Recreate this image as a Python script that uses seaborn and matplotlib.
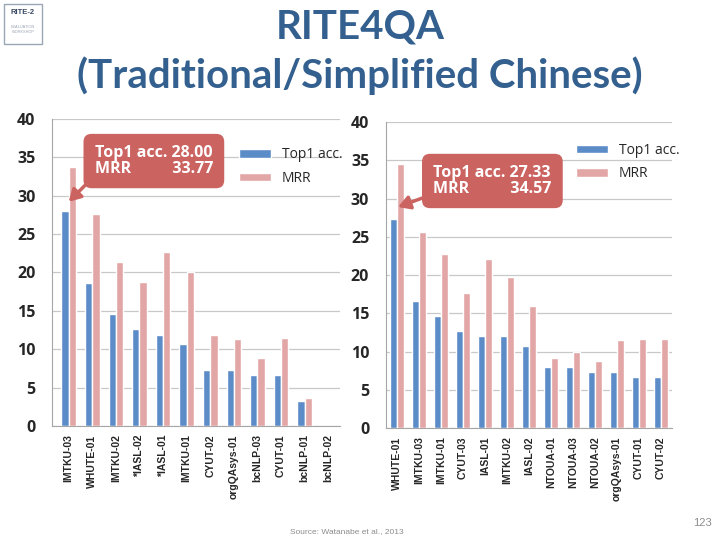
import matplotlib
matplotlib.use("Agg")
import matplotlib.pyplot as plt
from matplotlib.patches import Rectangle
import pandas as pd
import seaborn as sns

# values
left_runs = ['IMTKU-03', 'WHUTE-01', 'IMTKU-02', '*IASL-02', '*IASL-01', 'IMTKU-01',
             'CYUT-02', 'orgQAsys-01', 'bcNLP-03', 'CYUT-01', 'bcNLP-01', 'bcNLP-02']
left_top1 = [28.00, 18.6, 14.6, 12.7, 11.9, 10.7, 7.3, 7.3, 6.7, 6.7, 3.3, 0.0]
left_mrr = [33.77, 27.6, 21.4, 18.8, 22.7, 20.0, 11.8, 11.3, 8.8, 11.5, 3.7, 0.0]

right_runs = ['WHUTE-01', 'IMTKU-03', 'IMTKU-01', 'CYUT-03', 'IASL-01', 'IMTKU-02', 'IASL-02',
              'NTOUA-01', 'NTOUA-03', 'NTOUA-02', 'orgQAsys-01', 'CYUT-01', 'CYUT-02']
right_top1 = [27.33, 16.6, 14.65, 12.7, 12.0, 12.0, 10.7, 8.0, 8.0, 7.3, 7.3, 6.7, 6.7]
right_mrr = [34.57, 25.6, 22.7, 17.7, 22.1, 19.7, 16.0, 9.2, 10.0, 8.8, 11.5, 11.7, 11.7]

metrics = ['Top1 acc.', 'MRR']
palette = {'Top1 acc.': '#5B8CC8', 'MRR': '#E3A6A6'}
box_color = '#CB6461'

sns.set_style('white')
plt.rcParams['font.family'] = ['Open Sans', 'DejaVu Sans']


def to_long(runs, top1, mrr):
    return pd.DataFrame({
        'run': runs * 2,
        'metric': [metrics[0]] * len(runs) + [metrics[1]] * len(runs),
        'score': top1 + mrr,
    })


def draw(ax, runs, top1, mrr, xlim, note, note_xy, head_xy, legend_anchor):
    df = to_long(runs, top1, mrr)
    sns.barplot(data=df, x='run', y='score', hue='metric', order=runs, hue_order=metrics,
                palette=palette, width=0.62, saturation=1, ax=ax, zorder=3)
    ax.set_ylim(0, 40)
    ax.set_xlim(*xlim)
    ax.set_yticks(range(0, 41, 5))
    ax.yaxis.grid(True, color='#C8C8C8', linewidth=0.9, zorder=0)
    ax.set_axisbelow(True)
    ax.set_xlabel('')
    ax.set_ylabel('')
    for s in ['top', 'right']:
        ax.spines[s].set_visible(False)
    for s in ['left', 'bottom']:
        ax.spines[s].set_color('#A6A6A6')
    ax.tick_params(axis='y', labelsize=11.5, length=4, color='#A6A6A6', pad=8)
    for t in ax.get_yticklabels():
        t.set_fontweight('bold')
    ax.set_xticks(range(len(runs)))
    ax.set_xticklabels(runs, rotation=90, fontsize=7.5, fontweight='bold', color='#262626',
                       family='Liberation Sans')
    ax.tick_params(axis='x', length=0, pad=6)
    ax.set_xticks([i + 0.5 for i in range(-1, len(runs))], minor=True)
    ax.tick_params(axis='x', which='minor', length=4, color='#A6A6A6')
    ax.legend(frameon=False, loc='upper left', bbox_to_anchor=legend_anchor,
              fontsize=10, handlelength=2.3, handleheight=0.55, labelspacing=0.6,
              handletextpad=0.8, borderaxespad=0)
    ax.annotate(note, xy=head_xy, xytext=note_xy, textcoords='data',
                fontsize=11.5, fontweight='bold', color='white', ha='left', va='center',
                linespacing=1.0, zorder=6,
                bbox=dict(boxstyle='round,pad=0.7,rounding_size=0.5', fc=box_color, ec='none'),
                arrowprops=dict(arrowstyle='-|>,head_length=0.6,head_width=0.35', color=box_color,
                                lw=2.5, shrinkA=0, shrinkB=0, relpos=(0.02, 0.12)))


fig = plt.figure(figsize=(7.2, 5.4), dpi=100)
ax1 = fig.add_axes([0.0722, 0.211, 0.400, 0.569])
ax2 = fig.add_axes([0.536, 0.207, 0.397, 0.567])

draw(ax1, left_runs, left_top1, left_mrr, (-0.71, 11.5),
     'Top1 acc. 28.00\nMRR          33.77', (1.1, 34.5), (0.0, 29.2), (0.63, 0.925))
draw(ax2, right_runs, right_top1, right_mrr, (-0.5, 12.5),
     'Top1 acc. 27.33\nMRR          34.57', (1.65, 32.3), (0.05, 28.9), (0.645, 0.95))

fig.text(0.5, 0.950, 'RITE4QA', ha='center', va='center', fontsize=29,
         color='#34608F', family='Lato', fontweight='bold')
fig.text(0.5, 0.860, '(Traditional/Simplified Chinese)', ha='center', va='center',
         fontsize=29, color='#34608F', family='Lato', fontweight='bold')

fig.text(0.403, 0.013, 'Source: Watanabe et al., 2013', fontsize=6, color='#8C8C8C',
         family='Liberation Sans')
fig.text(0.962, 0.025, '123', fontsize=8, color='#8C8C8C', family='Liberation Sans')

# small logo in the corner
fig.patches.append(Rectangle((0.006, 0.918), 0.052, 0.075, transform=fig.transFigure,
                             fill=False, ec='#9AA6B4', lw=1.0))
fig.text(0.032, 0.977, 'RITE-2', ha='center', va='center', fontsize=5.5, fontweight='bold',
         color='#3A4A63', family='Liberation Sans')
fig.text(0.032, 0.946, 'EVALUATION\nWORKSHOP', ha='center', va='center', fontsize=2.8,
         color='#9AA6B4', family='Liberation Sans', linespacing=1.3)

fig.savefig('out.png', dpi=100)
